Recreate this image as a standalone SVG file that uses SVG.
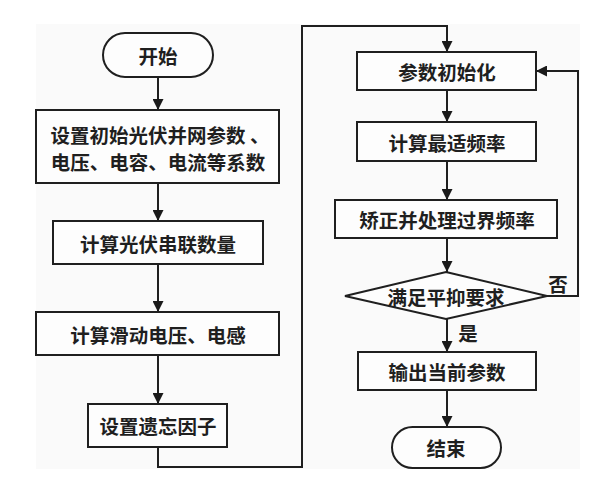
<svg xmlns="http://www.w3.org/2000/svg" width="614" height="488" viewBox="0 0 614 488">
<defs>
<marker id="arr" viewBox="0 0 10 10" refX="10" refY="5" markerWidth="11" markerHeight="11" markerUnits="userSpaceOnUse" orient="auto">
<path d="M0,0 L10,5 L0,10 Z" fill="#1a1a1a"/>
</marker>
<style>
.n{fill:#fdfdfd;stroke:#1f1f1f;stroke-width:2}
.t{font-family:"Noto Sans CJK SC","Noto Sans CJK TC",sans-serif;font-weight:bold;font-size:19.5px;fill:#1f1f1f;text-anchor:middle;dominant-baseline:central}
.c{fill:none;stroke:#1f1f1f;stroke-width:2;marker-end:url(#arr)}
</style>
</defs>
<rect x="36" y="24" width="544" height="445" fill="#fafafa"/>
<g id="connectors">
<line class="c" x1="158" y1="77" x2="158" y2="110"/>
<line class="c" x1="158" y1="183" x2="158" y2="221"/>
<line class="c" x1="158" y1="264" x2="158" y2="312"/>
<line class="c" x1="158" y1="355" x2="158" y2="404"/>
<path class="c" d="M158,447 V467 H302 V26 H447 V52"/>
<line class="c" x1="447" y1="90" x2="447" y2="122"/>
<line class="c" x1="447" y1="161" x2="447" y2="200"/>
<line class="c" x1="447" y1="238" x2="447" y2="272"/>
<line class="c" x1="447" y1="319" x2="447" y2="352"/>
<line class="c" x1="447" y1="390" x2="447" y2="427"/>
<path class="c" d="M547,296 H578 V71 H536"/>
<text class="t" x="558" y="283">否</text>
<text class="t" x="468" y="332">是</text>
</g>
<g id="start"><rect class="n" x="103" y="33" width="110" height="44" rx="22"/><text class="t" x="158" y="55">开始</text></g>
<g id="setParams"><rect class="n" x="36" y="110" width="243" height="73"/><text class="t" x="160" y="134">设置初始光伏并网参数 、</text><text class="t" x="158" y="161">电压、电容、电流等系数</text></g>
<g id="calcSeries"><rect class="n" x="53" y="221" width="210" height="43"/><text class="t" x="158" y="243">计算光伏串联数量</text></g>
<g id="calcSliding"><rect class="n" x="36" y="312" width="243" height="43"/><text class="t" x="158" y="334">计算滑动电压、电感</text></g>
<g id="forget"><rect class="n" x="88" y="404" width="139" height="43"/><text class="t" x="158" y="425">设置遗忘因子</text></g>
<g id="init"><rect class="n" x="357" y="52" width="179" height="38"/><text class="t" x="447" y="71">参数初始化</text></g>
<g id="optFreq"><rect class="n" x="357" y="122" width="179" height="39"/><text class="t" x="447" y="142">计算最适频率</text></g>
<g id="correct"><rect class="n" x="335" y="200" width="222" height="38"/><text class="t" x="447" y="219">矫正并处理过界频率</text></g>
<g id="check"><path class="n" d="M446,272 L547,296 L446,319 L345,296 Z"/><text class="t" x="446" y="296">满足平抑要求</text></g>
<g id="output"><rect class="n" x="358" y="352" width="178" height="38"/><text class="t" x="447" y="371">输出当前参数</text></g>
<g id="end"><rect class="n" x="392" y="427" width="109" height="41" rx="20.5"/><text class="t" x="446" y="447">结束</text></g>
</svg>
